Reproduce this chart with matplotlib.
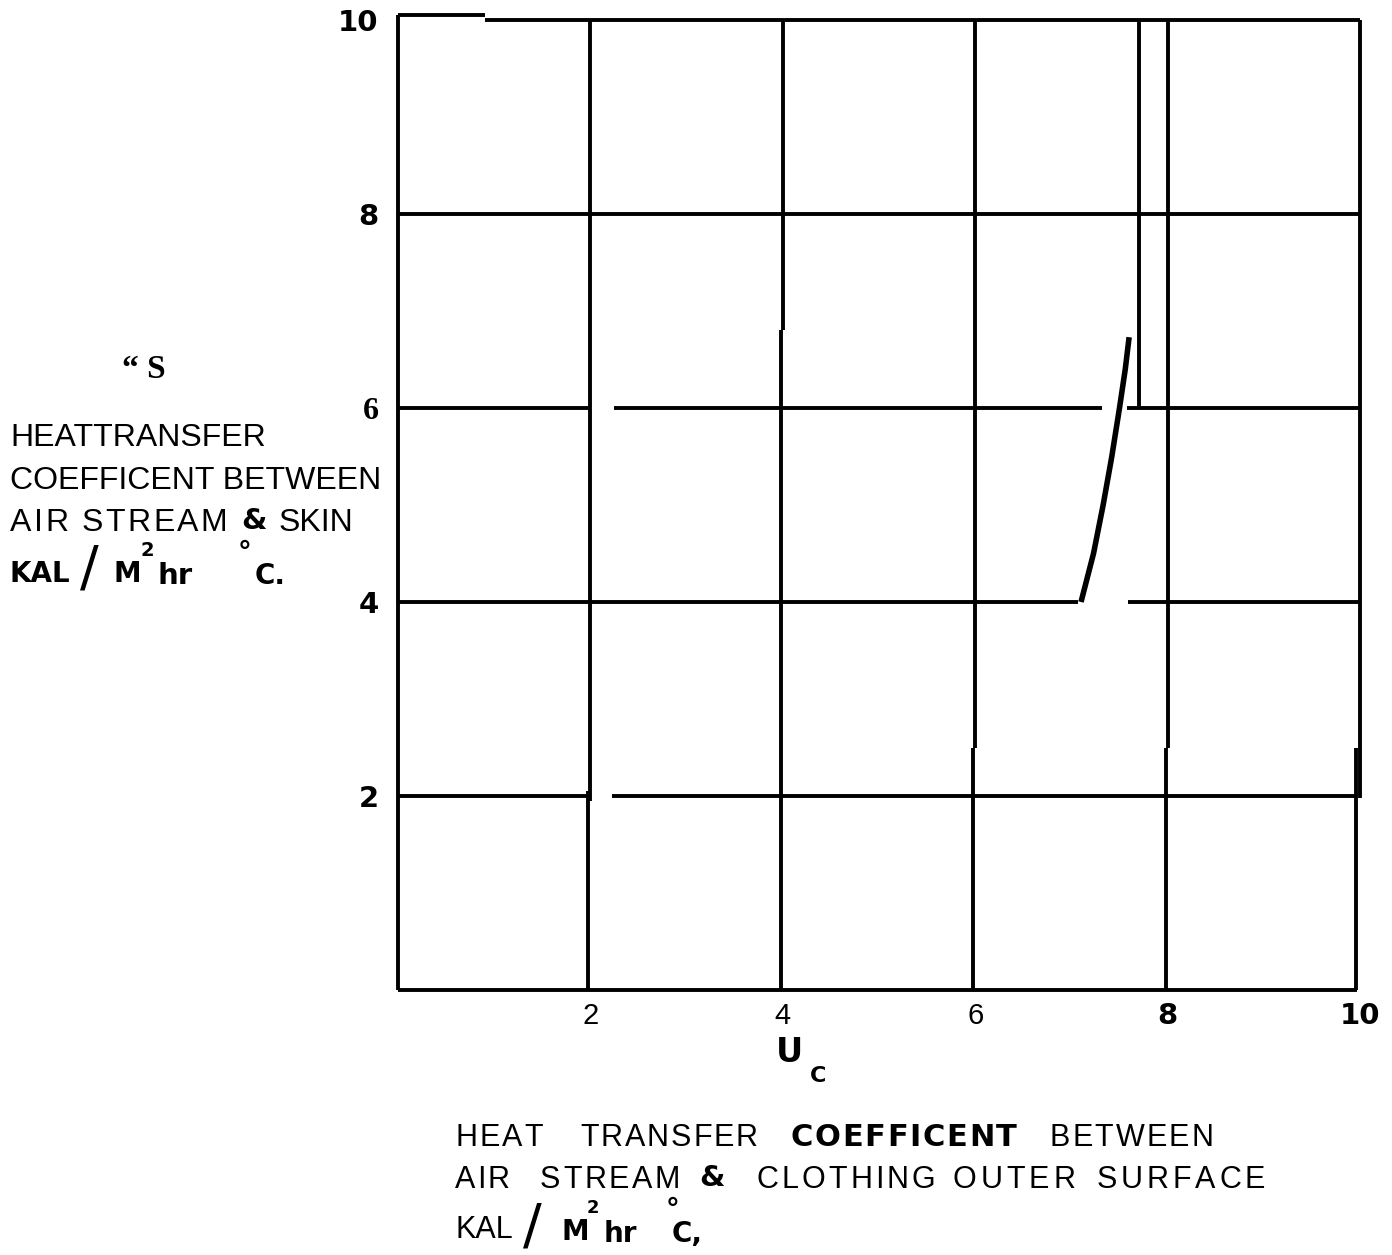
import matplotlib
matplotlib.use("Agg")
import matplotlib.pyplot as plt

# chart values
tick_vals = [2, 4, 6, 8, 10]
tick_labels = ["2", "4", "6", "8", "10"]

# measured curve h_s vs U_c
uc = [7.10, 7.23, 7.33, 7.42, 7.50, 7.56, 7.60]
hs = [4.00, 4.50, 5.00, 5.50, 6.00, 6.40, 6.73]

# grid segments as drawn on the old sheet (with the scan breaks)
h_segments = [
    (10.0, 0.9, 10.0), (10.05, 0.0, 0.9),
    (8.0, 0.0, 10.0),
    (6.0, 0.0, 2.0), (6.0, 2.25, 7.32), (6.0, 7.58, 10.0),
    (4.0, 0.0, 7.07), (4.0, 7.59, 10.0),
    (2.0, 0.0, 2.0), (2.0, 2.22, 9.97),
    (0.0, 0.0, 9.97),
]
v_segments = [
    (0.0, 0.0, 10.05),
    (2.0, 1.95, 10.0), (1.97, 0.0, 2.05),
    (4.0, 6.8, 10.0), (3.98, 0.0, 6.8),
    (6.0, 2.5, 10.0), (5.98, 0.0, 2.5),
    (7.7, 6.0, 10.0),
    (8.0, 2.5, 10.0), (7.98, 0.0, 2.5),
    (10.0, 1.98, 10.0), (9.96, 0.0, 2.5),
]

W, H = 1392, 1255
fig = plt.figure(figsize=(W / 100, H / 100), dpi=100)
ax = fig.add_axes([398 / W, 1 - 990 / H, 962 / W, 970 / H])
ax.set_xlim(0, 10)
ax.set_ylim(0, 10)
for s in ax.spines.values():
    s.set_visible(False)

for y, x0, x1 in h_segments:
    ax.plot([x0, x1], [y, y], color="black", lw=2.8, solid_capstyle="butt", clip_on=False)
for x, y0, y1 in v_segments:
    ax.plot([x, x], [y0, y1], color="black", lw=2.8, solid_capstyle="butt", clip_on=False)

ax.plot(uc, hs, color="black", lw=4, solid_capstyle="butt")

ax.set_xticks(tick_vals)
ax.set_xticklabels(tick_labels)
ax.set_yticks(tick_vals)
ax.set_yticklabels(tick_labels)
ax.tick_params(length=0)
ax.tick_params(axis="x", pad=9)
ax.tick_params(axis="y", pad=14)
for i, t in enumerate(ax.get_xticklabels()):
    if i < 3:
        t.set_fontfamily("Liberation Sans")
        t.set_fontsize(21)
    else:
        t.set_fontfamily("DejaVu Sans")
        t.set_fontweight("bold")
        t.set_fontsize(21)
for i, t in enumerate(ax.get_yticklabels()):
    t.set_fontweight("bold")
    t.set_fontsize(21)
    if tick_labels[i] == "6":
        t.set_fontfamily("Liberation Serif")
        t.set_fontsize(23)
    else:
        t.set_fontfamily("DejaVu Sans")


def tx(px, py, s, size, bold=False, family="Liberation Sans", **kw):
    return fig.text(px / W, 1 - py / H, s, fontsize=size, family=family,
                    fontweight="bold" if bold else "normal", va="center", ha="left", **kw)


renderer = fig.canvas.get_renderer()


def spread(x0, x1, py, word, size, bold=False, family="Liberation Sans"):
    # letters spaced out to fill x0..x1 like the lettering guide did
    parts = [tx(x0, py, c, size, bold, family) for c in word]
    widths = [p.get_window_extent(renderer).width for p in parts]
    gap = max((x1 - x0 - sum(widths)) / max(len(word) - 1, 1), 0)
    x = x0
    for p, w in zip(parts, widths):
        p.set_x(x / W)
        x += w + gap


# x label
tx(776, 1053, "U", 24, True, "DejaVu Sans")
tx(810, 1076, "C", 16, True, "DejaVu Sans")

# y label block
tx(122, 370, "\u201c S", 24, True, "Liberation Serif")
tx(10, 438, "HEATTRANSFER", 23)
tx(10, 481, "COEFFICENT BETWEEN", 23)
spread(10, 227, 523, "AIR STREAM", 23)
tx(241, 521, "&", 21, True, "DejaVu Sans")
tx(279, 523, "SKIN", 23)
tx(10, 574, "KAL", 20, True, "DejaVu Sans")
tx(80, 570, "/", 40, False, "DejaVu Sans")
tx(114, 574, "M", 20, True, "DejaVu Sans")
tx(141, 551, "2", 14, True, "DejaVu Sans")
tx(157, 576, "hr", 21, True, "DejaVu Sans")
tx(238, 553, "\u00b0", 20, True, "DejaVu Sans")
tx(255, 576, "C.", 20, True, "DejaVu Sans")

# bottom caption
spread(455, 543, 1138, "HEAT", 22)
spread(580, 758, 1138, "TRANSFER", 22)
spread(790, 1017, 1138, "COEFFICENT", 22, True, "DejaVu Sans")
spread(1050, 1213, 1138, "BETWEEN", 22)
spread(455, 510, 1180, "AIR", 22)
spread(540, 680, 1180, "STREAM", 22)
tx(699, 1178, "&", 21, True, "DejaVu Sans")
spread(757, 935, 1180, "CLOTHING", 22)
spread(953, 1075, 1180, "OUTER", 22)
spread(1097, 1265, 1180, "SURFACE", 22)
tx(455, 1230, "KAL", 22)
tx(523, 1228, "/", 40, False, "DejaVu Sans")
tx(561, 1232, "M", 20, True, "DejaVu Sans")
tx(587, 1208, "2", 13, True, "DejaVu Sans")
tx(604, 1234, "hr", 20, True, "DejaVu Sans")
tx(666, 1210, "\u00b0", 20, True, "DejaVu Sans")
tx(672, 1234, "C,", 20, True, "DejaVu Sans")

fig.savefig("out.png", dpi=100, facecolor="white")
